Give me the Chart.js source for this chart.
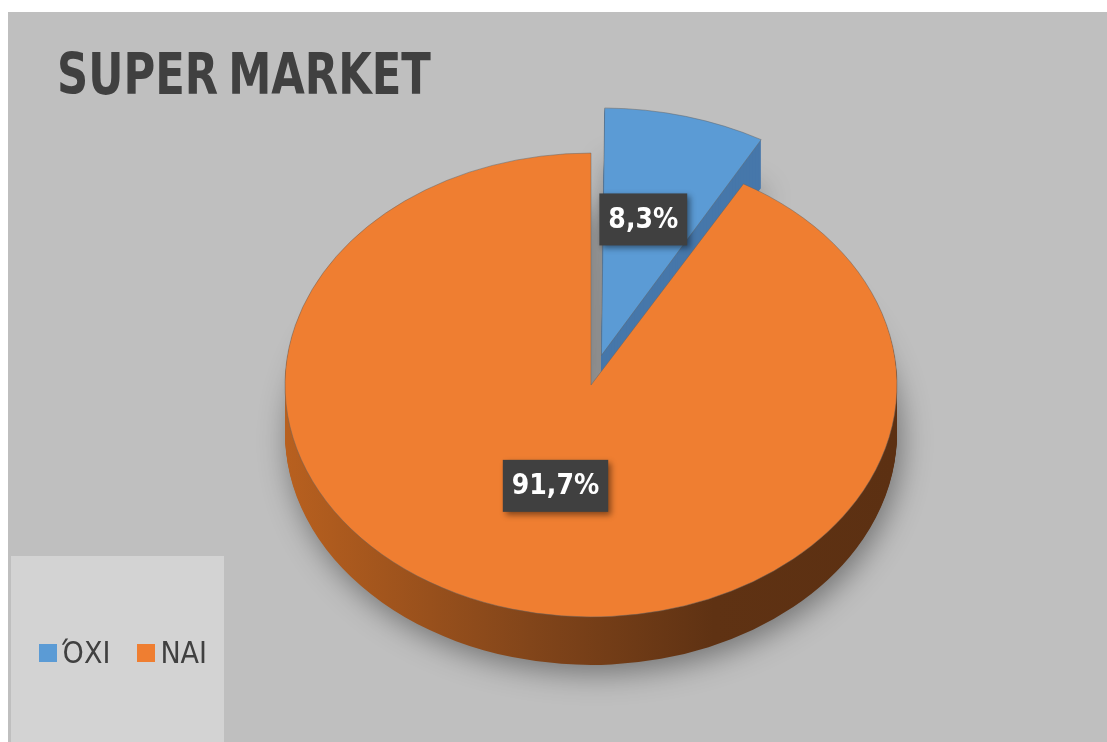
<!DOCTYPE html>
<html>
<head>
<meta charset="utf-8">
<script src="https://cdn.jsdelivr.net/npm/chart.js@4/dist/chart.umd.min.js"></script>
<style>
  html, body { margin: 0; padding: 0; background: #ffffff; width: 1107px; height: 742px; overflow: hidden; }
  #panel { position: absolute; left: 8px; top: 12px; width: 1099px; height: 730px; background: #bfbfbf; }
  #chart { position: absolute; left: 0; top: 0; }
  #title { position: absolute; left: 49px; top: 34px; font: bold 57px "DejaVu Sans Condensed", "DejaVu Sans", sans-serif; line-height: 57px; color: #404040; white-space: nowrap; transform: scaleX(0.845); transform-origin: 0 0; word-spacing: -6px; }
  #legend { position: absolute; left: 3px; top: 544px; width: 213px; height: 186px; background: #d3d3d3; }
  #legend .row { position: absolute; left: 28px; top: 82px; height: 30px; display: flex; align-items: center; }
  #legend .item { display: flex; align-items: center; margin-right: 27px; }
  #legend .box { width: 18px; height: 18px; margin-right: 5px; }
  #legend .txt { font: 30px "DejaVu Sans Condensed", "DejaVu Sans", sans-serif; line-height: 30px; color: #404040; }
</style>
</head>
<body>
<div id="panel">
  <canvas id="chart" width="1099" height="730"></canvas>
  <div id="title">SUPER MARKET</div>
  <div id="legend"><div class="row" id="legendRow"></div></div>
</div>
<script>
const labels = ["ΌΧΙ", "ΝΑΙ"];
const values = [8.3, 91.7];
const valueLabels = ["8,3%", "91,7%"];
const topColors = ["#5b9bd5", "#ef7e31"];

const SQUASH = 0.758;
const DEPTH = 48;

function squash(ctx, cx, cy) {
  ctx.translate(cx, cy);
  ctx.scale(1, SQUASH);
  ctx.translate(-cx, -cy);
}

// draw an arc element again with another fill (used for the side walls)
function drawArcAs(arc, ctx, fill) {
  const ghost = Object.create(arc);
  ghost.options = Object.assign({}, arc.options, { backgroundColor: fill, borderWidth: 0 });
  arc.draw.call(ghost, ctx);
}

const pie3d = {
  id: "pie3d",
  beforeDatasetsDraw(chart) {
    const meta = chart.getDatasetMeta(0);
    const ctx = chart.ctx;
    const { x: cx, y: cy, outerRadius: r } = meta.data[0];

    const orangeSide = ctx.createLinearGradient(cx - r, 0, cx + r, 0);
    orangeSide.addColorStop(0, "#b8601f");
    orangeSide.addColorStop(0.4, "#82451a");
    orangeSide.addColorStop(0.7, "#5f3213");
    orangeSide.addColorStop(1, "#5c3012");
    const sides = ["#4677aa", orangeSide];

    for (let d = DEPTH; d >= 1; d--) {
      ctx.save();
      ctx.translate(0, d);
      squash(ctx, cx, cy);
      if (d === DEPTH) {
        ctx.shadowColor = "rgba(0,0,0,0.4)";
        ctx.shadowBlur = 30;
        ctx.shadowOffsetX = 4;
        ctx.shadowOffsetY = 8;
      }
      drawArcAs(meta.data[1], ctx, sides[1]);
      drawArcAs(meta.data[0], ctx, sides[0]);
      ctx.restore();
    }
    ctx.save();
    squash(ctx, cx, cy);
  },
  afterDatasetsDraw(chart) {
    const ctx = chart.ctx;
    ctx.restore();
    const meta = chart.getDatasetMeta(0);
    const frac = [0.54, 0.45];
    meta.data.forEach((arc, i) => {
      const mid = (arc.startAngle + arc.endAngle) / 2;
      const off = (arc.options.offset || 0) / 4;
      const fix = 1 - Math.sin(Math.min(Math.PI, arc.circumference));
      const rr = arc.outerRadius * frac[i] + off * (1 + fix);
      const x = arc.x + Math.cos(mid) * rr - (i === 0 ? 6 : 0);
      const y = arc.y + Math.sin(mid) * rr * SQUASH;
      ctx.save();
      ctx.font = 'bold 28px "DejaVu Sans Condensed", "DejaVu Sans", sans-serif';
      const w = ctx.measureText(valueLabels[i]).width + 18;
      const h = 52;
      ctx.shadowColor = "rgba(0,0,0,0.45)";
      ctx.shadowBlur = 6;
      ctx.shadowOffsetX = 3;
      ctx.shadowOffsetY = 3;
      ctx.fillStyle = "#404040";
      ctx.fillRect(x - w / 2, y - h / 2, w, h);
      ctx.shadowColor = "transparent";
      ctx.fillStyle = "#ffffff";
      ctx.textAlign = "center";
      ctx.textBaseline = "middle";
      ctx.fillText(valueLabels[i], x, y + 1);
      ctx.restore();
    });
  }
};

const chart = new Chart(document.getElementById("chart").getContext("2d"), {
  type: "pie",
  data: {
    labels: labels,
    datasets: [{
      data: values,
      backgroundColor: topColors,
      borderColor: "rgba(100,100,100,0.55)",
      borderWidth: 1,
      offset: [162, 0],
      radius: 306,
      clip: false
    }]
  },
  options: {
    responsive: false,
    animation: false,
    rotation: 0,
    layout: { padding: { left: 67, top: 16, right: 0, bottom: 0 } },
    plugins: {
      legend: { display: false },
      title: { display: false },
      tooltip: { enabled: false }
    }
  },
  plugins: [pie3d]
});

// html legend built from the chart data
const row = document.getElementById("legendRow");
labels.forEach((l, i) => {
  const item = document.createElement("div");
  item.className = "item";
  item.innerHTML = '<div class="box" style="background:' + topColors[i] + '"></div><span class="txt">' + l + "</span>";
  row.appendChild(item);
});
</script>
</body>
</html>
